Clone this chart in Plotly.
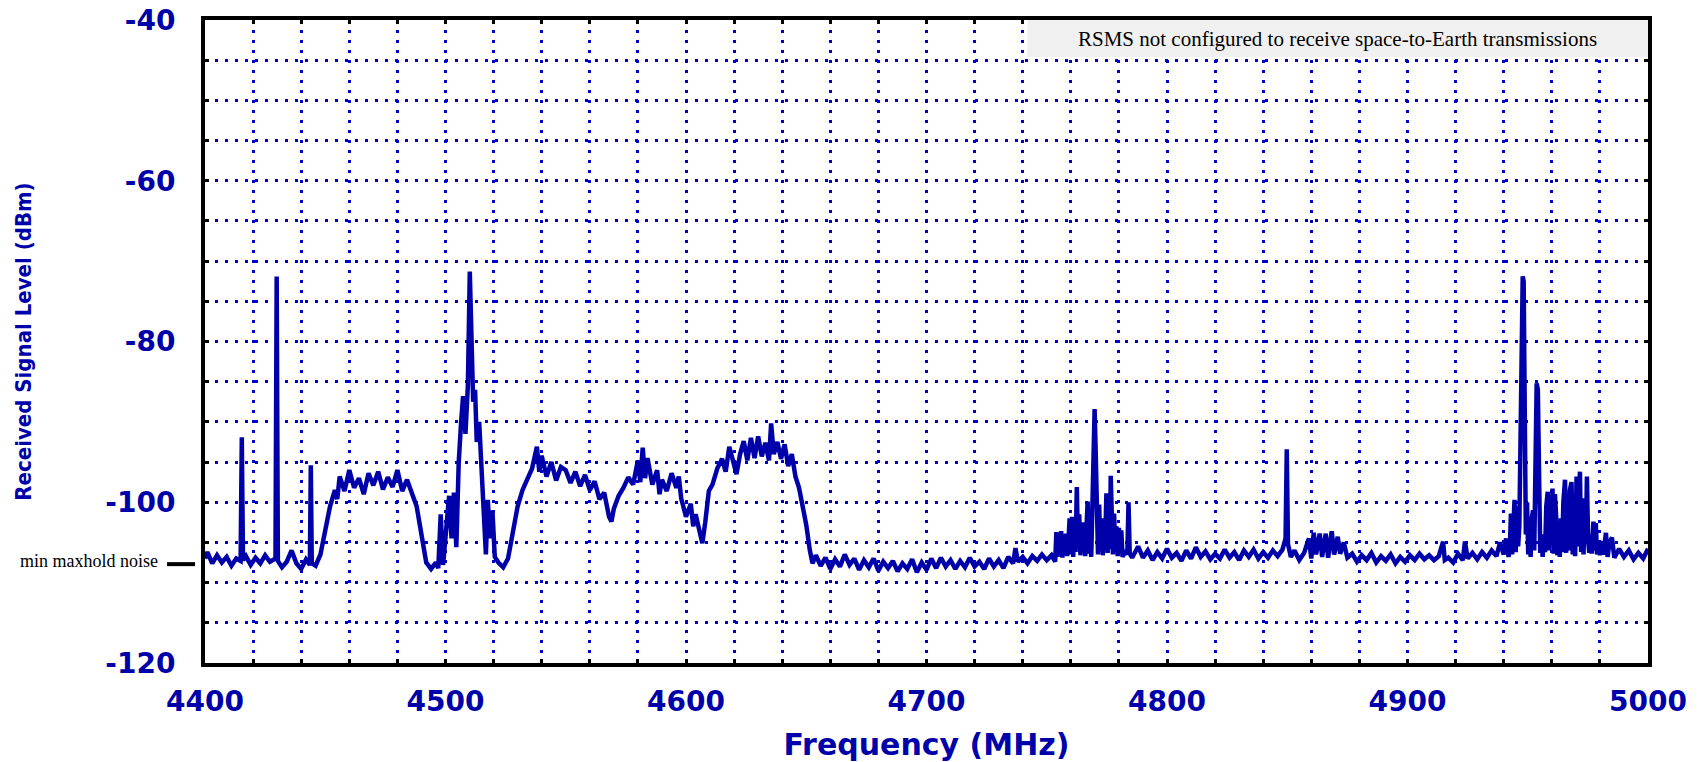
import plotly.graph_objects as go

# ---------------- data ----------------
# Segment A: 4400-4540 MHz
freq_a = [4400, 4401, 4403, 4405, 4407, 4409, 4411, 4413, 4414.8, 4415.3, 4415.8,
          4417, 4419, 4421, 4423, 4425, 4427, 4429.3, 4429.8, 4430.3, 4432, 4434,
          4436, 4438, 4440, 4442, 4443.6, 4444.0, 4444.4, 4446, 4448, 4450, 4452,
          4454, 4455, 4456, 4458, 4460, 4462, 4464, 4466, 4468, 4470, 4472, 4474,
          4476, 4478, 4480, 4482, 4484, 4486, 4488, 4490, 4492, 4494, 4496, 4497,
          4498, 4499, 4500.5, 4501.5, 4502.5, 4503.5, 4504.5, 4505.5, 4506.5, 4507.3,
          4508.3, 4509.3, 4510.1, 4510.8, 4511.5, 4512.3, 4513, 4514, 4515, 4516,
          4516.8, 4517.6, 4518.5, 4519.5, 4520.5, 4522, 4524, 4526, 4528, 4530,
          4532, 4534, 4536, 4538, 4539]
level_a = [-107.0, -106.2, -107.6, -106.6, -107.5, -106.8, -107.9, -107.0, -107.3, -91.9, -107.2,
           -106.7, -107.8, -106.9, -107.6, -106.6, -107.4, -107.0, -71.9, -107.3, -108.1, -107.4,
           -106.0, -107.6, -108.3, -107.1, -107.8, -95.4, -107.6, -107.9, -106.5, -103.5, -100.5,
           -98.5, -99.6, -96.8, -98.6, -96.0, -98.2, -97.0, -99.0, -96.4, -97.9, -96.2, -98.4,
           -96.9, -98.1, -96.0, -98.6, -97.2, -98.8, -100.5, -104.0, -107.5, -108.3, -107.5, -108.2,
           -101.5, -107.8, -103.0, -99.2, -104.5, -98.8, -105.6, -95.0, -90.0, -86.8,
           -91.5, -85.5, -71.3, -80.0, -87.5, -86.0, -92.5, -90.0, -95.6, -101.0,
           -106.5, -99.7, -104.5, -101.0, -106.8, -107.5, -108.1, -107.0, -104.0, -100.5,
           -98.5, -97.2, -95.8, -93.1, -96.2]

# Segment B: 4540-4653 MHz
freq_b = [4540, 4542, 4544, 4546, 4548, 4550, 4552, 4554, 4556, 4558, 4560, 4562, 4564,
          4566, 4568, 4569, 4570, 4572, 4574, 4576, 4578, 4580, 4581, 4582, 4583, 4584,
          4586, 4588, 4589, 4590, 4592, 4594, 4596, 4597, 4598, 4600, 4602, 4603, 4604,
          4605.5, 4606.8, 4608, 4609.5, 4611, 4613, 4615, 4616.5, 4618, 4619.5, 4621,
          4622.5, 4624, 4625.5, 4627, 4628.5, 4630, 4631.5, 4633, 4634.5, 4635.4, 4636.5,
          4638, 4639.5, 4641, 4642.5, 4644, 4645.5, 4647, 4648.5, 4650, 4651.5, 4652.6]
level_b = [-94.2, -96.8, -95.0, -97.3, -95.6, -96.0, -97.6, -96.2, -98.0, -96.6, -98.5, -97.4, -99.6,
           -98.8, -101.8, -102.4, -100.8, -99.2, -98.2, -96.9, -97.8, -94.8, -97.5, -93.2, -97.0, -94.5,
           -97.8, -96.0, -99.0, -97.2, -98.6, -96.4, -98.2, -96.8, -99.5, -101.8, -100.2, -103.0, -101.5,
           -103.8, -105.1, -102.5, -98.6, -97.8, -95.8, -94.6, -96.2, -93.1, -95.0, -96.5,
           -94.0, -92.4, -94.8, -92.0, -94.5, -91.8, -94.3, -92.6, -94.8, -90.2, -94.0,
           -92.5, -94.6, -92.8, -95.5, -94.0, -96.8, -98.2, -100.5, -102.8, -106.0, -107.6]

# Segment C: 4654-4753 MHz (noise floor)
freq_c = [4654, 4656, 4658, 4660, 4662, 4664, 4666, 4668, 4670, 4672, 4674, 4676, 4678,
          4680, 4682, 4684, 4686, 4688, 4690, 4692, 4694, 4696, 4698, 4700, 4702, 4704,
          4706, 4708, 4710, 4712, 4714, 4716, 4718, 4720, 4722, 4724, 4726, 4728, 4730,
          4732, 4734, 4736, 4737, 4738, 4740, 4742, 4744, 4746, 4748, 4750, 4752, 4753.5]
level_c = [-106.6, -107.9, -106.9, -108.3, -107.1, -108.0, -106.5, -107.8, -107.0, -108.4, -107.2, -108.1, -107.0,
           -108.5, -107.4, -108.2, -107.3, -108.6, -107.6, -108.3, -107.1, -108.7, -107.5, -108.4, -107.0, -108.2,
           -106.9, -108.0, -107.2, -108.3, -107.3, -108.1, -106.9, -108.0, -107.4, -108.3, -107.0, -108.0, -107.2,
           -108.2, -106.8, -107.6, -105.7, -107.4, -106.8, -107.6, -106.7, -107.3, -106.5, -107.2, -106.6, -107.4]

# Segment D: 4754-4787 MHz (signal cluster)
freq_d = [4754, 4754.5, 4755, 4755.5, 4756, 4756.5, 4757, 4757.5, 4758, 4758.5, 4759, 4759.5,
          4760, 4760.5, 4761, 4761.5, 4762, 4762.5, 4763, 4763.5, 4764, 4764.5, 4765, 4765.5,
          4766, 4766.5, 4767, 4767.5, 4768, 4768.5, 4769, 4769.5, 4769.9, 4770.3, 4770.8, 4771.3,
          4771.8, 4772.3, 4772.8, 4773.3, 4773.8, 4774.3, 4774.8, 4775.3, 4775.8, 4776.3, 4776.6,
          4777, 4777.5, 4778, 4778.5, 4779, 4779.5, 4780, 4780.5, 4781, 4781.5, 4782.5, 4783.5,
          4784, 4784.5, 4785.5, 4786.5]
level_d = [-103.7, -106.8, -103.8, -106.5, -103.6, -106.9, -104.5, -106.3, -103.9, -106.7, -105.0, -102.0,
           -106.5, -101.8, -106.8, -103.0, -106.2, -98.1, -105.5, -101.5, -106.6, -103.0, -106.0, -102.5,
           -106.7, -100.5, -99.9, -106.4, -104.0, -106.8, -97.0, -92.0, -88.4, -93.0, -100.5, -106.5,
           -100.3, -106.0, -102.0, -106.6, -102.5, -105.0, -98.9, -106.3, -101.0, -105.8, -96.7,
           -104.0, -106.5, -101.4, -105.8, -103.0, -106.7, -103.2, -106.2, -103.5, -106.8, -106.0, -106.5,
           -100.0, -106.4, -106.9, -106.3]

# Segment E: 4788-4942 MHz
freq_e = [4788, 4790, 4792, 4794, 4796, 4798, 4800, 4802, 4804, 4806, 4808, 4810, 4812,
          4814, 4816, 4818, 4820, 4822, 4824, 4826, 4828, 4830, 4832, 4834, 4836, 4838,
          4840, 4842, 4844, 4846, 4848, 4849.3, 4849.8, 4850.3, 4851.5, 4853, 4855, 4857,
          4859, 4860, 4861, 4862, 4863.5, 4864.5, 4866, 4867, 4868.5, 4869.5, 4871, 4872,
          4873.5, 4875, 4877, 4879, 4881, 4883, 4885, 4887, 4889, 4891, 4893, 4895, 4897,
          4899, 4901, 4903, 4905, 4907, 4909, 4911, 4913, 4914.8, 4915.5, 4917, 4919, 4921,
          4923, 4923.9, 4925, 4927, 4929, 4931, 4933, 4935, 4937, 4938.5, 4940, 4941, 4942]
level_e = [-105.5, -106.9, -106.0, -107.2, -106.2, -107.0, -105.8, -106.9, -106.3, -107.3, -106.0, -107.0, -105.6,
           -106.8, -106.1, -107.1, -106.4, -107.0, -105.9, -106.9, -106.2, -107.2, -106.0, -106.8, -105.9, -107.0,
           -106.2, -106.9, -106.0, -106.7, -105.9, -104.5, -93.4, -105.2, -106.8, -106.0, -107.2, -106.3,
           -104.5, -107.0, -103.8, -106.5, -103.9, -106.8, -103.9, -106.9, -103.6, -106.5, -104.3, -106.4,
           -105.0, -106.9, -106.4, -107.4, -106.6, -107.2, -106.3, -107.5, -106.7, -107.3, -106.5, -107.6, -106.8,
           -107.4, -106.6, -107.2, -106.4, -107.1, -106.6, -107.2, -106.7, -104.9, -107.2, -106.9, -107.5, -106.4,
           -107.2, -104.9, -107.0, -106.3, -107.1, -106.2, -106.9, -106.0, -106.7, -105.0, -106.5, -104.5, -106.8]

# Segment F: 4942.5-5000 MHz (signal cluster and floor)
freq_f = [4942.5, 4943, 4943.5, 4944, 4944.5, 4945, 4945.5, 4946, 4946.5, 4947, 4947.5, 4947.9,
          4948.3, 4948.7, 4949.2, 4949.7, 4950.2, 4950.7, 4951.2, 4951.7, 4952.2, 4952.7, 4953.2,
          4953.7, 4954.2, 4954.7, 4955.2, 4955.7, 4956.2, 4956.7, 4957.2, 4957.7, 4958.3, 4958.8,
          4959.3, 4959.8, 4960.3, 4960.8, 4961.3, 4961.8, 4962.3, 4962.8, 4963.3, 4963.8, 4964.3,
          4964.8, 4965.5, 4966, 4966.5, 4967, 4967.5, 4968.2, 4968.7, 4969.2, 4969.7, 4970.3,
          4970.8, 4971.3, 4971.7, 4972.2, 4972.7, 4973.2, 4973.7, 4974.2, 4974.6, 4975.1, 4975.6,
          4976.1, 4976.6, 4977.3, 4977.8, 4978.3, 4978.8, 4979.5, 4980, 4980.5, 4981.5, 4982.5,
          4983.2, 4984, 4985, 4986, 4988, 4990, 4992, 4994, 4996, 4998, 5000]
level_f = [-106.0, -101.4, -106.5, -100.5, -99.7, -106.2, -100.5, -105.5, -103.0, -92.0, -76.0, -71.9,
           -72.5, -90.0, -104.0, -100.0, -106.5, -103.0, -106.8, -102.0, -101.0, -106.0, -90.0,
           -85.2, -86.0, -99.5, -106.3, -104.5, -106.8, -104.0, -106.2, -100.5, -98.7, -106.0,
           -99.5, -104.5, -98.3, -106.4, -99.0, -101.7, -106.6, -103.5, -106.8, -102.0, -106.2,
           -100.0, -97.2, -106.3, -100.0, -106.0, -98.5, -97.5, -106.5, -101.5, -106.7, -96.8,
           -105.5, -99.0, -96.2, -106.2, -103.5, -106.5, -99.5, -104.5, -96.8, -104.8, -106.3,
           -104.0, -106.4, -102.4, -106.0, -102.6, -106.5, -105.0, -106.6, -104.8, -106.5, -103.8,
           -106.8, -105.0, -104.4, -106.9, -105.8, -106.8, -106.0, -107.1, -106.3, -107.0, -105.8]

noise_floor_level = -107.7  # "min maxhold noise" marker level (dBm)

x_ticks = [4400, 4500, 4600, 4700, 4800, 4900, 5000]
y_ticks = [-120, -100, -80, -60, -40]

freq_mhz = freq_a + freq_b + freq_c + freq_d + freq_e + freq_f
level_dbm = level_a + level_b + level_c + level_d + level_e + level_f

# ---------------- styling ----------------
BLUE = "#0000AA"
GRID = "#0000CC"
tick_font = dict(family="DejaVu Sans", size=28, color=BLUE, weight="bold")

fig = go.Figure()
fig.add_trace(go.Scatter(
    x=freq_mhz, y=level_dbm, mode="lines",
    line=dict(color=BLUE, width=4.5),
    hoverinfo="x+y", showlegend=False,
))

grid_common = dict(gridcolor=GRID, gridwidth=3, griddash="3px,7px")

fig.update_xaxes(
    range=[4400, 5000], tickvals=x_ticks, ticktext=[str(v) for v in x_ticks],
    showgrid=True, **grid_common,
    minor=dict(dtick=20, tick0=4400, showgrid=True, gridcolor=GRID, gridwidth=3,
               griddash="3px,7px", ticks="inside", ticklen=4, tickwidth=3, tickcolor="black"),
    ticks="inside", ticklen=4, tickwidth=3, tickcolor="black",
    showline=True, linecolor="black", linewidth=4, mirror="ticks",
    tickfont=tick_font, ticklabelstandoff=10, zeroline=False,
    title=dict(text="Frequency (MHz)", font=dict(family="DejaVu Sans", size=30, color=BLUE, weight="bold"),
               standoff=27),
)
fig.update_yaxes(
    range=[-120, -40], tickvals=y_ticks, ticktext=[str(v) for v in y_ticks],
    showgrid=True, **grid_common,
    minor=dict(dtick=5, tick0=-120, showgrid=True, gridcolor=GRID, gridwidth=3,
               griddash="3px,7px", ticks="inside", ticklen=4, tickwidth=3, tickcolor="black"),
    ticks="inside", ticklen=4, tickwidth=3, tickcolor="black",
    showline=True, linecolor="black", linewidth=4, mirror="ticks",
    tickfont=tick_font, ticklabelstandoff=20, zeroline=False,
    title=dict(text="Received Signal Level (dBm)",
               font=dict(family="Liberation Sans Narrow, DejaVu Sans Condensed, Arial Narrow, sans-serif",
                         size=22, color=BLUE, weight="bold"),
               standoff=69),
)

# grey note box at top right
fig.add_shape(type="rect", xref="x", yref="y", x0=4742, x1=5000, y0=-44.6, y1=-40,
              fillcolor="#F0F0F0", line=dict(width=0), layer="above")
fig.add_annotation(x=4871, y=-42.4, xref="x", yref="y", showarrow=False,
                   text="RSMS not configured to receive space-to-Earth transmissions",
                   font=dict(family="Liberation Serif, Times New Roman, serif", size=21, color="black"))

# min maxhold noise marker
fig.add_shape(type="line", xref="paper", yref="y", x0=-0.0263, x1=-0.0069,
              y0=noise_floor_level, y1=noise_floor_level, line=dict(color="black", width=4))
fig.add_annotation(x=-0.0315, y=noise_floor_level + 0.4, xref="paper", yref="y", xanchor="right",
                   showarrow=False, text="min maxhold noise",
                   font=dict(family="Liberation Serif, Times New Roman, serif", size=18, color="black"))

fig.update_layout(
    width=1701, height=762,
    margin=dict(l=205, r=53, t=20, b=99, autoexpand=False),
    paper_bgcolor="white", plot_bgcolor="white",
)

fig.write_html("out.html", config={"displayModeBar": False},
               post_script="document.body.style.margin='0px';document.body.style.overflow='hidden';")
